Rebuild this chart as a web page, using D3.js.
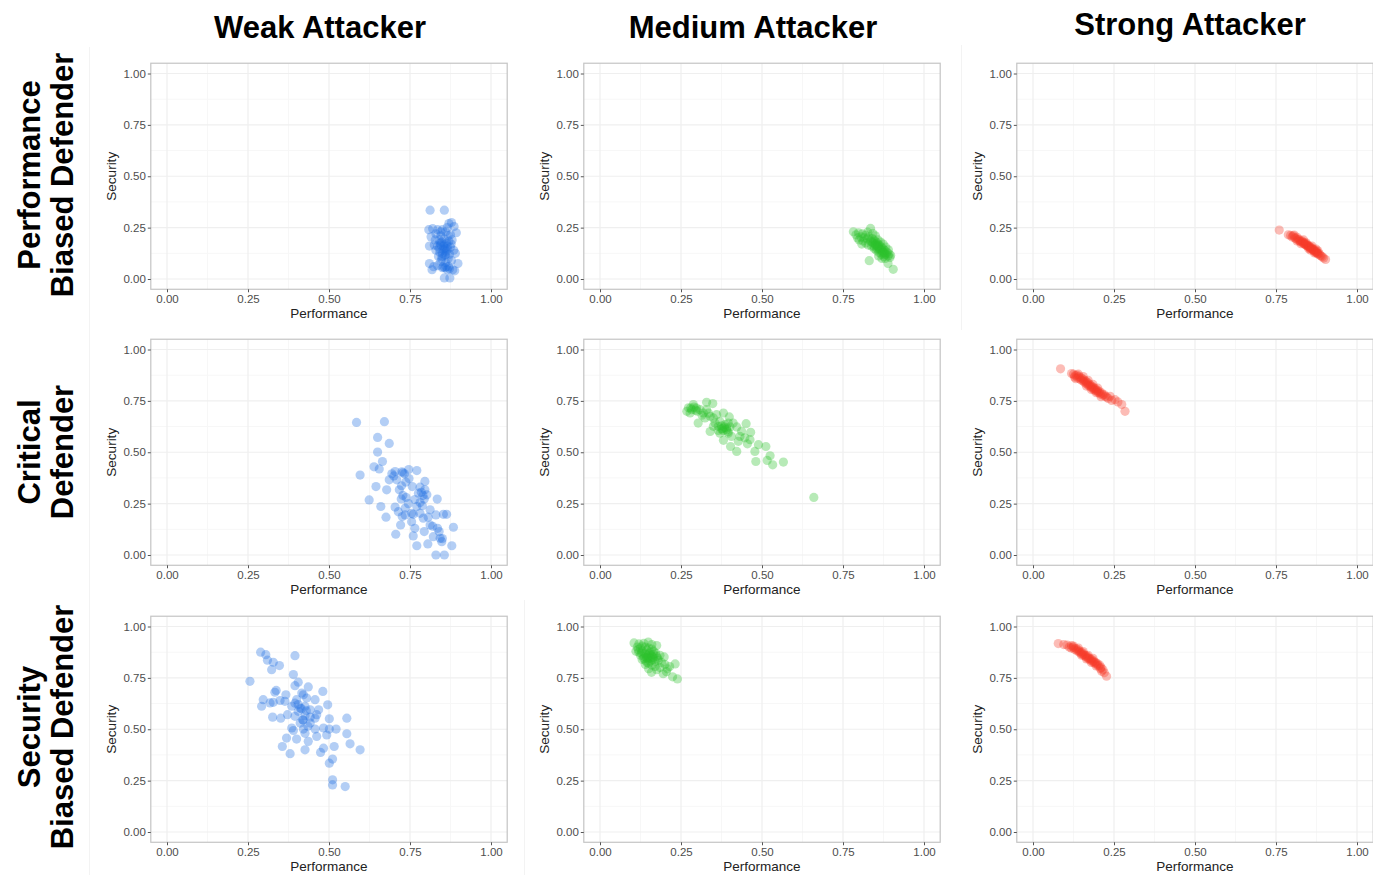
<!DOCTYPE html>
<html>
<head>
<meta charset="utf-8">
<script src="https://cdn.jsdelivr.net/npm/d3@7/dist/d3.min.js"></script>
<style>
  html, body { margin: 0; padding: 0; background: #fff; }
  svg { display: block; font-family: "Liberation Sans", Arial, sans-serif; }
</style>
</head>
<body>
<svg id="chart" width="1373" height="875"></svg>
<script>
// Column (attacker) and row (defender) labels
const attackers = ["Weak Attacker", "Medium Attacker", "Strong Attacker"];
const defenders = [["Performance", "Biased Defender"], ["Critical", "Defender"], ["Security", "Biased Defender"]];
const tickValues = [0, 0.25, 0.5, 0.75, 1];
const minorTicks = [0.125, 0.375, 0.625, 0.875];
const attackerColors = ["#1f6fe3", "#2cc12c", "#f63c2a"];

// [performance, security] outcomes per simulation run
const weakPerf = [
  [0.812,0.335],[0.856,0.335],[0.808,0.240],[0.820,0.245],[0.835,0.240],[0.850,0.240],[0.865,0.250],[0.870,0.270],
  [0.878,0.275],[0.886,0.255],[0.893,0.225],[0.815,0.205],[0.830,0.220],[0.845,0.210],[0.860,0.230],[0.875,0.215],
  [0.840,0.190],[0.855,0.195],[0.870,0.185],[0.810,0.160],[0.825,0.165],[0.835,0.160],[0.845,0.165],[0.855,0.170],
  [0.865,0.160],[0.875,0.155],[0.885,0.140],[0.890,0.125],[0.830,0.140],[0.842,0.130],[0.852,0.145],[0.862,0.135],
  [0.872,0.120],[0.838,0.110],[0.848,0.100],[0.858,0.115],[0.868,0.100],[0.878,0.090],[0.845,0.085],[0.860,0.080],
  [0.810,0.075],[0.823,0.060],[0.835,0.065],[0.850,0.055],[0.862,0.060],[0.872,0.050],[0.882,0.045],[0.898,0.075],
  [0.888,0.040],[0.818,0.045],[0.856,0.005],[0.873,0.005],[0.865,0.045],[0.850,0.125],[0.858,0.150],[0.848,0.180],
  [0.868,0.210],[0.880,0.190],[0.840,0.150],[0.863,0.175],[0.852,0.060],[0.877,0.170],[0.845,0.230],[0.828,0.190],
  [0.853,0.160],[0.857,0.140],[0.861,0.120],[0.849,0.110],[0.866,0.145],[0.843,0.175],[0.870,0.060],[0.858,0.055]
];
const mediumPerf = [
  [0.782,0.230],[0.790,0.215],[0.798,0.225],[0.805,0.205],[0.810,0.220],[0.815,0.200],[0.820,0.212],[0.825,0.195],
  [0.830,0.205],[0.835,0.246],[0.835,0.185],[0.840,0.198],[0.842,0.178],[0.845,0.190],[0.848,0.170],[0.850,0.182],
  [0.852,0.163],[0.855,0.175],[0.857,0.157],[0.860,0.168],[0.862,0.150],[0.865,0.160],[0.867,0.143],[0.870,0.152],
  [0.872,0.136],[0.875,0.145],[0.877,0.128],[0.880,0.138],[0.883,0.120],[0.886,0.130],[0.889,0.112],[0.892,0.122],
  [0.895,0.105],[0.905,0.047],[0.889,0.075],[0.831,0.089],[0.820,0.175],[0.812,0.185],[0.828,0.165],[0.838,0.160],
  [0.846,0.148],[0.853,0.140],[0.860,0.130],[0.868,0.120],[0.876,0.110],[0.870,0.100],[0.858,0.190],[0.866,0.180],
  [0.874,0.170],[0.882,0.155],[0.890,0.142],[0.850,0.210],[0.842,0.222],[0.800,0.190],[0.808,0.170],[0.860,0.112],
  [0.880,0.100],[0.897,0.115],[0.826,0.228],[0.795,0.200],[0.845,0.160],[0.855,0.150],[0.863,0.140],[0.850,0.170],
  [0.838,0.180],[0.872,0.128],[0.878,0.118],[0.858,0.162]
];
const strongPerf = [
  [0.760,0.238],[0.788,0.215],[0.795,0.212],[0.800,0.205],[0.803,0.210],[0.808,0.200],[0.812,0.196],[0.815,0.203],
  [0.818,0.190],[0.821,0.193],[0.824,0.185],[0.826,0.181],[0.829,0.186],[0.832,0.176],[0.834,0.180],[0.836,0.171],
  [0.838,0.175],[0.840,0.168],[0.842,0.165],[0.844,0.170],[0.846,0.160],[0.848,0.163],[0.850,0.157],[0.852,0.161],
  [0.854,0.151],[0.856,0.155],[0.858,0.148],[0.860,0.152],[0.862,0.143],[0.864,0.146],[0.866,0.140],[0.868,0.136],
  [0.870,0.141],[0.872,0.132],[0.874,0.128],[0.876,0.133],[0.878,0.125],[0.880,0.121],[0.883,0.124],[0.886,0.116],
  [0.889,0.112],[0.893,0.108],[0.897,0.102],[0.903,0.095],[0.827,0.172],[0.843,0.176],[0.851,0.147],[0.861,0.160],
  [0.869,0.127],[0.879,0.137],[0.835,0.190],[0.815,0.185],[0.806,0.214],[0.857,0.140],[0.874,0.145]
];
const weakCrit = [
  [0.585,0.645],[0.671,0.649],[0.650,0.572],[0.686,0.543],[0.650,0.501],[0.665,0.455],[0.639,0.429],[0.655,0.419],
  [0.596,0.389],[0.704,0.406],[0.746,0.416],[0.771,0.411],[0.645,0.333],[0.678,0.317],[0.624,0.268],[0.660,0.236],
  [0.676,0.184],[0.706,0.101],[0.760,0.093],[0.771,0.045],[0.830,0.000],[0.856,0.000],[0.884,0.135],[0.879,0.045],
  [0.863,0.198],[0.834,0.272],[0.796,0.358],[0.723,0.273],[0.771,0.236],[0.794,0.272],[0.781,0.203],[0.812,0.146],
  [0.840,0.114],[0.848,0.065],[0.805,0.054],[0.755,0.203],[0.726,0.187],[0.721,0.146],[0.755,0.162],[0.794,0.114],
  [0.822,0.089],[0.724,0.337],[0.737,0.355],[0.757,0.333],[0.781,0.330],[0.776,0.301],[0.802,0.293],[0.717,0.317],
  [0.735,0.228],[0.704,0.233],[0.694,0.395],[0.709,0.366],[0.686,0.366],[0.747,0.372],[0.796,0.317],[0.812,0.220],
  [0.830,0.195],[0.853,0.198],[0.806,0.184],[0.791,0.179],[0.760,0.198],[0.843,0.081],[0.735,0.195],[0.781,0.255],
  [0.714,0.211],[0.728,0.400],[0.700,0.385],[0.765,0.270],[0.788,0.240],[0.745,0.250],[0.725,0.405],[0.733,0.395],
  [0.790,0.290],[0.785,0.305],[0.728,0.290],[0.738,0.280],[0.820,0.140],[0.835,0.130],[0.850,0.080],[0.765,0.130]
];
const mediumCrit = [
  [0.273,0.716],[0.288,0.732],[0.329,0.743],[0.348,0.737],[0.268,0.699],[0.303,0.642],[0.350,0.667],[0.381,0.691],
  [0.399,0.672],[0.340,0.601],[0.375,0.613],[0.391,0.610],[0.422,0.623],[0.451,0.639],[0.381,0.558],[0.432,0.577],
  [0.465,0.597],[0.463,0.561],[0.403,0.528],[0.422,0.504],[0.455,0.541],[0.489,0.537],[0.512,0.528],[0.478,0.504],
  [0.525,0.483],[0.481,0.455],[0.516,0.460],[0.533,0.439],[0.566,0.452],[0.660,0.280],[0.355,0.642],[0.365,0.626],
  [0.386,0.634],[0.370,0.650],[0.340,0.675],[0.319,0.691],[0.309,0.707],[0.283,0.707],[0.278,0.691],[0.298,0.715],
  [0.329,0.707],[0.324,0.667],[0.360,0.683],[0.396,0.642],[0.411,0.642],[0.437,0.602],[0.447,0.570],[0.427,0.553],
  [0.406,0.577],[0.396,0.593],[0.370,0.593],[0.350,0.626],[0.365,0.606],[0.391,0.618],[0.375,0.629],[0.401,0.623],
  [0.290,0.720],[0.300,0.700],[0.315,0.680],[0.335,0.690],[0.380,0.605],[0.395,0.600],[0.384,0.622],[0.378,0.615],
  [0.280,0.715],[0.295,0.705]
];
const strongCrit = [
  [0.085,0.906],[0.119,0.883],[0.125,0.880],[0.130,0.873],[0.128,0.866],[0.135,0.876],[0.138,0.862],[0.142,0.869],
  [0.145,0.856],[0.148,0.862],[0.150,0.850],[0.153,0.857],[0.156,0.845],[0.158,0.851],[0.160,0.838],[0.163,0.845],
  [0.166,0.833],[0.168,0.840],[0.171,0.826],[0.173,0.832],[0.176,0.820],[0.178,0.826],[0.181,0.814],[0.183,0.820],
  [0.186,0.808],[0.188,0.813],[0.191,0.802],[0.193,0.808],[0.196,0.797],[0.199,0.801],[0.202,0.790],[0.205,0.795],
  [0.208,0.784],[0.212,0.788],[0.215,0.778],[0.219,0.781],[0.223,0.772],[0.228,0.768],[0.232,0.762],[0.238,0.772],
  [0.243,0.752],[0.253,0.756],[0.262,0.745],[0.274,0.732],[0.284,0.699],[0.140,0.880],[0.155,0.868],[0.170,0.850],
  [0.185,0.830],[0.200,0.812],[0.165,0.822],[0.180,0.805],[0.195,0.790],[0.210,0.770],[0.132,0.858]
];
const weakSec = [
  [0.289,0.875],[0.305,0.863],[0.395,0.858],[0.310,0.836],[0.328,0.826],[0.347,0.810],[0.323,0.790],[0.256,0.733],
  [0.390,0.766],[0.405,0.729],[0.395,0.712],[0.436,0.706],[0.337,0.689],[0.297,0.644],[0.292,0.612],[0.328,0.631],
  [0.349,0.640],[0.367,0.668],[0.416,0.676],[0.481,0.684],[0.431,0.652],[0.457,0.644],[0.395,0.627],[0.411,0.603],
  [0.426,0.611],[0.442,0.595],[0.468,0.595],[0.496,0.619],[0.326,0.559],[0.351,0.554],[0.372,0.571],[0.395,0.563],
  [0.419,0.546],[0.442,0.559],[0.457,0.554],[0.501,0.551],[0.555,0.554],[0.385,0.506],[0.421,0.501],[0.457,0.501],
  [0.483,0.506],[0.501,0.501],[0.522,0.501],[0.369,0.457],[0.400,0.452],[0.426,0.480],[0.462,0.465],[0.493,0.472],
  [0.555,0.478],[0.356,0.416],[0.436,0.441],[0.426,0.400],[0.380,0.381],[0.474,0.387],[0.483,0.408],[0.516,0.416],
  [0.565,0.429],[0.596,0.400],[0.511,0.355],[0.501,0.335],[0.511,0.254],[0.511,0.229],[0.550,0.221],[0.333,0.680],
  [0.364,0.636],[0.385,0.612],[0.405,0.587],[0.426,0.566],[0.411,0.530],[0.442,0.530],[0.390,0.494],[0.462,0.571],
  [0.400,0.644],[0.421,0.668],[0.318,0.628],[0.415,0.600],[0.430,0.590],[0.405,0.620],[0.420,0.545],[0.435,0.515]
];
const mediumSec = [
  [0.105,0.920],[0.120,0.915],[0.135,0.918],[0.149,0.924],[0.160,0.912],[0.175,0.907],[0.111,0.880],[0.115,0.900],
  [0.125,0.895],[0.130,0.905],[0.140,0.900],[0.150,0.895],[0.160,0.890],[0.120,0.875],[0.130,0.880],[0.138,0.870],
  [0.145,0.885],[0.155,0.875],[0.165,0.880],[0.172,0.870],[0.125,0.860],[0.135,0.855],[0.142,0.862],[0.150,0.850],
  [0.158,0.858],[0.165,0.848],[0.175,0.855],[0.185,0.860],[0.198,0.852],[0.130,0.840],[0.140,0.835],[0.148,0.842],
  [0.155,0.832],[0.162,0.838],[0.170,0.830],[0.180,0.835],[0.190,0.825],[0.140,0.815],[0.150,0.820],[0.160,0.812],
  [0.170,0.805],[0.185,0.800],[0.159,0.777],[0.150,0.795],[0.175,0.790],[0.200,0.815],[0.208,0.794],[0.215,0.805],
  [0.232,0.818],[0.224,0.755],[0.239,0.745],[0.205,0.780],[0.195,0.770],[0.145,0.825],[0.135,0.845],[0.165,0.865],
  [0.178,0.845],[0.152,0.868],[0.128,0.870],[0.118,0.888],[0.148,0.855],[0.156,0.845],[0.162,0.852],[0.144,0.848]
];
const strongSec = [
  [0.078,0.917],[0.095,0.912],[0.105,0.910],[0.119,0.907],[0.112,0.900],[0.118,0.895],[0.124,0.898],[0.128,0.889],
  [0.132,0.893],[0.135,0.882],[0.139,0.886],[0.142,0.876],[0.145,0.880],[0.148,0.869],[0.151,0.873],[0.154,0.862],
  [0.157,0.866],[0.160,0.856],[0.163,0.859],[0.166,0.849],[0.169,0.852],[0.172,0.842],[0.175,0.845],[0.178,0.836],
  [0.181,0.839],[0.184,0.829],[0.187,0.832],[0.190,0.823],[0.193,0.826],[0.196,0.816],[0.199,0.819],[0.202,0.808],
  [0.206,0.812],[0.210,0.800],[0.212,0.782],[0.216,0.790],[0.220,0.775],[0.227,0.758],[0.125,0.905],[0.140,0.895],
  [0.155,0.878],[0.170,0.860],[0.185,0.845],[0.150,0.860],[0.165,0.842],[0.180,0.825],[0.195,0.808],[0.208,0.795]
];

// grid[row][col]
const panels = [
  [weakPerf, mediumPerf, strongPerf],
  [weakCrit, mediumCrit, strongCrit],
  [weakSec, mediumSec, strongSec]
];

// Panel geometry: where value 0 and value 1 fall on each axis
const colZero = [167, 600, 1033];
const rowZero = [279, 555, 832];
const unitX = 324;
const unitY = 205.5;

const svg = d3.select("#chart");

// faint frame separators between the assembled panel images
const sep = svg.append("g").attr("stroke", "#f3f3f3").attr("stroke-width", 1);
sep.append("line").attr("x1", 89.5).attr("x2", 89.5).attr("y1", 47).attr("y2", 875);
sep.append("line").attr("x1", 524.5).attr("x2", 524.5).attr("y1", 600).attr("y2", 875);
sep.append("line").attr("x1", 961.5).attr("x2", 961.5).attr("y1", 45).attr("y2", 330);

panels.forEach((row, r) => {
  row.forEach((pts, c) => {
    const x = d3.scaleLinear().domain([-0.05, 1.05])
      .range([colZero[c] - 0.05 * unitX, colZero[c] + 1.05 * unitX]);
    const y = d3.scaleLinear().domain([-0.05, 1.05])
      .range([rowZero[r] + 0.05 * unitY, rowZero[r] - 1.05 * unitY]);
    const [x0, x1] = x.range();
    const [y0, y1] = y.range();
    const g = svg.append("g");

    // minor and major grid lines
    const grid = g.append("g");
    grid.selectAll(".vmin").data(minorTicks).join("line")
      .attr("x1", d => x(d)).attr("x2", d => x(d)).attr("y1", y1).attr("y2", y0)
      .attr("stroke", "#f7f7f7").attr("stroke-width", 1);
    grid.selectAll(".hmin").data(minorTicks).join("line")
      .attr("y1", d => y(d)).attr("y2", d => y(d)).attr("x1", x0).attr("x2", x1)
      .attr("stroke", "#f7f7f7").attr("stroke-width", 1);
    grid.selectAll(".vmaj").data(tickValues).join("line")
      .attr("x1", d => x(d)).attr("x2", d => x(d)).attr("y1", y1).attr("y2", y0)
      .attr("stroke", "#efefef").attr("stroke-width", 1.2);
    grid.selectAll(".hmaj").data(tickValues).join("line")
      .attr("y1", d => y(d)).attr("y2", d => y(d)).attr("x1", x0).attr("x2", x1)
      .attr("stroke", "#efefef").attr("stroke-width", 1.2);

    // points
    g.append("g").selectAll("circle").data(pts).join("circle")
      .attr("cx", d => x(d[0])).attr("cy", d => y(d[1])).attr("r", 4.6)
      .attr("fill", attackerColors[c]).attr("fill-opacity", 0.34);

    // panel border
    g.append("rect").attr("x", x0).attr("y", y1)
      .attr("width", x1 - x0).attr("height", y0 - y1)
      .attr("fill", "none").attr("stroke", "#c4c4c4").attr("stroke-width", 1.2);

    // axes
    const fmt = d3.format(".2f");
    const xa = g.append("g").attr("transform", `translate(0,${y0})`)
      .call(d3.axisBottom(x).tickValues(tickValues).tickFormat(fmt).tickSize(3).tickPadding(3));
    const ya = g.append("g").attr("transform", `translate(${x0},0)`)
      .call(d3.axisLeft(y).tickValues(tickValues).tickFormat(fmt).tickSize(3).tickPadding(2));
    [xa, ya].forEach(a => {
      a.select(".domain").remove();
      a.selectAll(".tick line").attr("stroke", "#555");
      a.selectAll(".tick text").attr("fill", "#4d4d4d")
        .style("font-size", "11.5px").style("font-family", "'Liberation Sans', Arial, sans-serif");
    });

    // axis titles
    g.append("text").attr("x", x(0.5)).attr("y", y0 + 29)
      .attr("text-anchor", "middle").attr("fill", "#222")
      .style("font-size", "13.5px").text("Performance");
    g.append("text")
      .attr("transform", `translate(${x0 - 35},${y(0.5)}) rotate(-90)`)
      .attr("text-anchor", "middle").attr("fill", "#222")
      .style("font-size", "13.5px").text("Security");
  });
});

// column titles
const colTitleX = [320, 753, 1190];
const colTitleY = [38, 38, 35];
attackers.forEach((t, c) => {
  svg.append("text")
    .attr("x", colTitleX[c]).attr("y", colTitleY[c])
    .attr("text-anchor", "middle").attr("font-weight", "bold")
    .style("font-size", "31px").attr("fill", "#000").text(t);
});

// row titles, two stacked lines each
const rowCenter = [175, 452, 727];
defenders.forEach((lines, r) => {
  lines.forEach((t, i) => {
    svg.append("text")
      .attr("transform", `translate(${40 + i * 33},${rowCenter[r]}) rotate(-90)`)
      .attr("text-anchor", "middle").attr("font-weight", "bold")
      .style("font-size", "31px").attr("fill", "#000").text(t);
  });
});
</script>
</body>
</html>
